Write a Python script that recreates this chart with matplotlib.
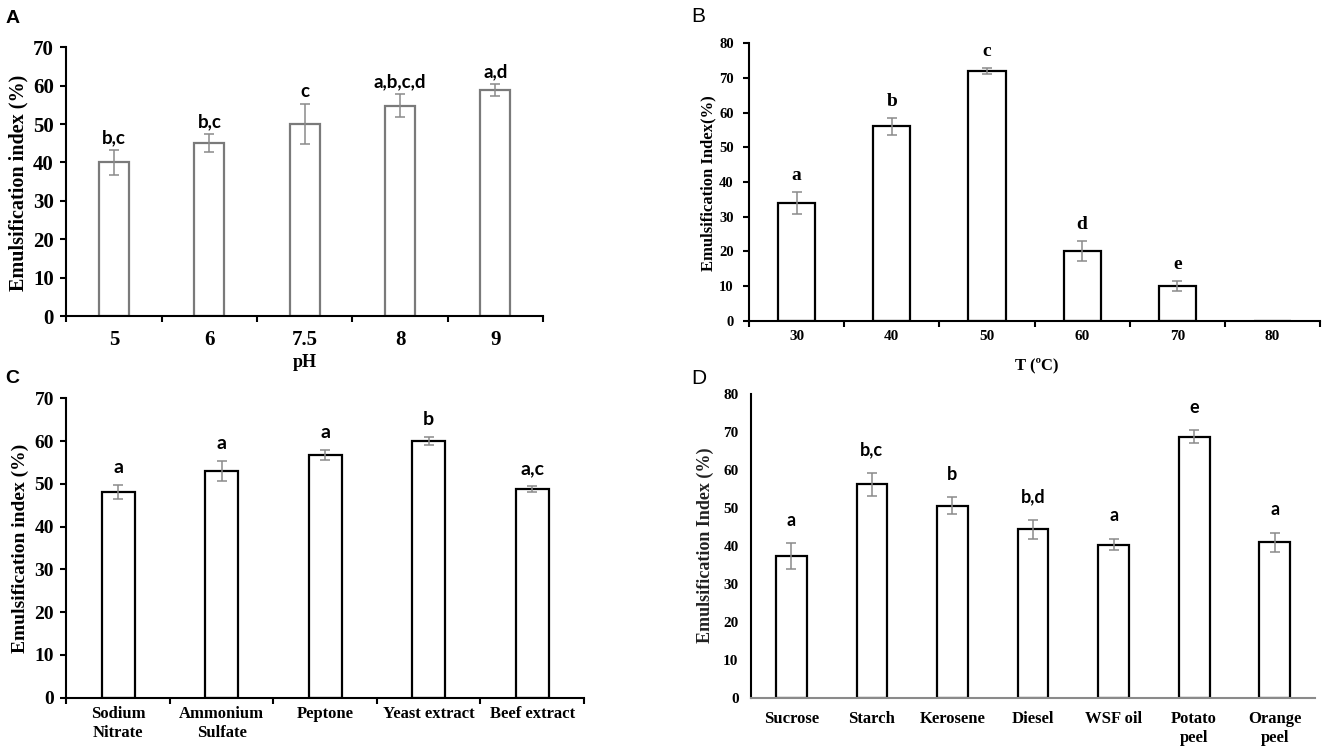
import numpy as np
import matplotlib.pyplot as plt

# dane
ph_labels = ['5', '6', '7.5', '8', '9']
ph_values = [40.0, 45.0, 50.0, 54.8, 58.9]
ph_err = [3.2, 2.3, 5.3, 3.0, 1.5]
ph_letters = ['b,c', 'b,c', 'c', 'a,b,c,d', 'a,d']

temp_labels = ['30', '40', '50', '60', '70', '80']
temp_values = [34.0, 56.0, 72.0, 20.1, 10.0, 0.0]
temp_err = [3.2, 2.5, 1.0, 3.0, 1.4, 0.0]
temp_letters = ['a', 'b', 'c', 'd', 'e', '']

nitrogen_labels = ['Sodium\nNitrate', 'Ammonium\nSulfate', 'Peptone', 'Yeast extract', 'Beef extract']
nitrogen_values = [48.1, 53.0, 56.8, 60.0, 48.8]
nitrogen_err = [1.7, 2.4, 1.2, 1.0, 0.8]
nitrogen_letters = ['a', 'a', 'a', 'b', 'a,c']

carbon_labels = ['Sucrose', 'Starch', 'Kerosene', 'Diesel', 'WSF oil', 'Potato\npeel', 'Orange\npeel']
carbon_values = [37.4, 56.2, 50.6, 44.4, 40.4, 68.8, 41.0]
carbon_err = [3.4, 3.1, 2.2, 2.5, 1.5, 1.7, 2.5]
carbon_letters = ['a', 'b,c', 'b', 'b,d', 'a', 'e', 'a']

SERIF = 'Liberation Serif'
SANS = 'Liberation Sans'
LETTER_FONT = 'Lato'

fig = plt.figure(figsize=(13.25, 7.54), dpi=100)

axA = fig.add_axes([0.0501, 0.5809, 0.3597, 0.3564])
axB = fig.add_axes([0.5653, 0.5747, 0.4310, 0.3679])
axC = fig.add_axes([0.0501, 0.0747, 0.3906, 0.3971])
axD = fig.add_axes([0.5668, 0.0739, 0.4257, 0.4036])


def draw_panel(ax, labels, values, err, letters, width, edge, ymax, ystep,
               gap, tick_fs, xtick_fs, letter_font, letter_fs,
               xpad, ypad, boundary_ticks=True, yticks_on=True, xaxis_color='black'):
    x = np.arange(len(labels))
    vals = np.array(values)
    errs = np.array(err)
    ax.bar(x, vals, width=width, color='white', edgecolor=edge, linewidth=1.6, zorder=2)
    keep = vals > 0
    ax.errorbar(x[keep], vals[keep], yerr=errs[keep], fmt='none', ecolor='#8a8a8a',
                elinewidth=1.1, capsize=3.5, capthick=1.1, zorder=3)
    for xi, v, e, t in zip(x, vals, errs, letters):
        if t:
            ax.text(xi, v + e + gap, t, ha='center', va='bottom', family=letter_font,
                    fontweight='bold', fontsize=letter_fs)
    ax.set_xlim(-0.5, len(labels) - 0.5)
    ax.set_ylim(0, ymax)
    ax.set_yticks(np.arange(0, ymax + 1, ystep))
    ax.set_xticks(x)
    ax.set_xticklabels(labels, family=SERIF, fontweight='bold', fontsize=xtick_fs,
                       linespacing=1.25)
    for lab in ax.get_yticklabels():
        lab.set_family(SERIF)
        lab.set_fontweight('bold')
        lab.set_fontsize(tick_fs)
    ax.spines['top'].set_visible(False)
    ax.spines['right'].set_visible(False)
    ax.spines['left'].set_linewidth(1.5)
    ax.spines['bottom'].set_linewidth(1.5)
    ax.spines['bottom'].set_color(xaxis_color)
    ax.spines['bottom'].set_zorder(4)
    ax.tick_params(axis='x', which='major', length=0, pad=xpad)
    if boundary_ticks:
        ax.set_xticks(np.arange(len(labels) + 1) - 0.5, minor=True)
        ax.tick_params(axis='x', which='minor', length=4, width=1.5, direction='out')
    if yticks_on:
        ax.tick_params(axis='y', length=4, width=1.5, direction='out', pad=ypad)
    else:
        ax.tick_params(axis='y', length=0, pad=ypad)


draw_panel(axA, ph_labels, ph_values, ph_err, ph_letters, 0.315, '#7a7a7a', 70, 10,
           1.0, 15, 15, LETTER_FONT, 13.5, 10, 5)
draw_panel(axB, temp_labels, temp_values, temp_err, temp_letters, 0.39, 'black', 80, 10,
           2.3, 10.5, 11, SERIF, 14, 7, 7)
draw_panel(axC, nitrogen_labels, nitrogen_values, nitrogen_err, nitrogen_letters, 0.32, 'black',
           70, 10, 2.0, 14, 12, LETTER_FONT, 14, 6, 5)
draw_panel(axD, carbon_labels, carbon_values, carbon_err, carbon_letters, 0.38, 'black',
           80, 10, 3.8, 11, 12, LETTER_FONT, 13, 9, 9, boundary_ticks=False,
           yticks_on=False, xaxis_color='#8a8a8a')

# opisy osi
fig.text(0.0136, 0.757, 'Emulsification index (%)', rotation=90, ha='center', va='center',
         family=SERIF, fontweight='bold', fontsize=14.5)
fig.text(0.2302, 0.519, 'pH', ha='center', va='center', family=SERIF, fontweight='bold',
         fontsize=13)
fig.text(0.5345, 0.757, 'Emulsification Index(%)', rotation=90, ha='center', va='center',
         family=SERIF, fontweight='bold', fontsize=12)
fig.text(0.7826, 0.516, 'T (ºC)', ha='center', va='center', family=SERIF, fontweight='bold',
         fontsize=12)
fig.text(0.015, 0.273, 'Emulsification index (%)', rotation=90, ha='center', va='center',
         family=SERIF, fontweight='bold', fontsize=14)
fig.text(0.532, 0.277, 'Emulsification Index (%)', rotation=90, ha='center', va='center',
         family=SERIF, fontweight='bold', fontsize=13, color='#222222')

# litery paneli
fig.text(0.004, 0.976, 'A', ha='left', va='center', family=SANS, fontweight='bold', fontsize=14)
fig.text(0.522, 0.978, 'B', ha='left', va='center', family=SANS, fontsize=15)
fig.text(0.004, 0.498, 'C', ha='left', va='center', family=SANS, fontweight='bold', fontsize=14)
fig.text(0.522, 0.498, 'D', ha='left', va='center', family=SANS, fontsize=15)

plt.savefig('out.png', dpi=100)
